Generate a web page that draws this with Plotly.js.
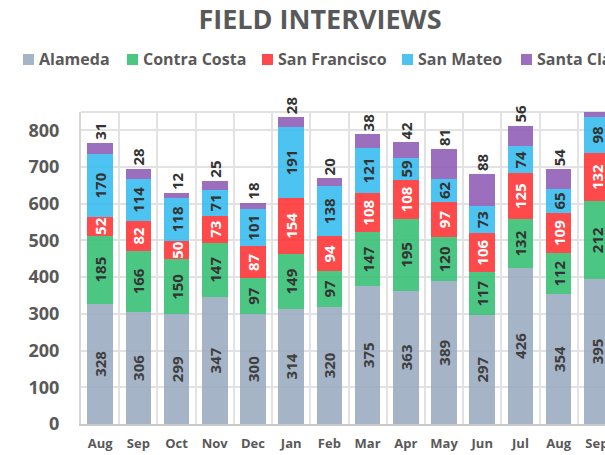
<!DOCTYPE html>
<html>
<head>
<meta charset="utf-8">
<script src="https://cdn.plot.ly/plotly-3.0.1.min.js"></script>
<style>
  html, body { margin: 0; padding: 0; overflow: hidden; background: #fff; }
  #chart { width: 640px; height: 455px; }
</style>
</head>
<body>
<div id="chart"></div>
<script>
// ---- data ----
const months = ['Aug','Sep','Oct','Nov','Dec','Jan','Feb','Mar','Apr','May','Jun','Jul','Aug','Sep'];
const alameda      = [328,306,299,347,300,314,320,375,363,389,297,426,354,395];
const contraCosta  = [185,166,150,147, 97,149, 97,147,195,120,117,132,112,212];
const sanFrancisco = [ 52, 82, 50, 73, 87,154, 94,108,108, 97,106,125,109,132];
const sanMateo     = [170,114,118, 71,101,191,138,121, 59, 62, 73, 74, 65, 98];
const santaClara   = [ 31, 28, 12, 25, 18, 28, 20, 38, 42, 81, 88, 56, 54, 30];
const seriesNames  = ['Alameda','Contra Costa','San Francisco','San Mateo','Santa Clara'];
const yTicks       = [0,100,200,300,400,500,600,700,800];

// ---- styling ----
const W = 640, H = 455;
const M = {l: 81, r: 24, t: 112, b: 31};
const YMAX = 850;
const FONT = '"Open Sans", "Noto Sans", sans-serif';
const GREY = '#595959';
const fills = ['rgba(156,172,194,0.9)','rgba(56,193,117,0.9)','rgba(254,54,54,0.9)','rgba(57,189,238,0.9)','rgba(145,95,183,0.9)'];
const legendFills = ['#a6b4c8','#4cc783','#fe4a4a','#4dc4f0','#9c6fbe'];
const labelColors = ['#3f3f3f','#333333','#ffffff','#333333','#333333'];

const idx = months.map((m, i) => i);
const totals = idx.map(i => alameda[i] + contraCosta[i] + sanFrancisco[i] + sanMateo[i] + santaClara[i]);
const allSeries = [alameda, contraCosta, sanFrancisco, sanMateo, santaClara];

const traces = allSeries.map((vals, k) => {
  const top = k === allSeries.length - 1;
  return {
    type: 'bar',
    name: seriesNames[k],
    x: idx,
    y: vals,
    marker: {color: fills[k], line: {width: 0}},
    text: vals.map((v, i) => (top && totals[i] > YMAX) ? '' : String(v)),
    texttemplate: '%{text}',
    textposition: top ? 'outside' : 'inside',
    insidetextanchor: 'middle',
    textangle: -90,
    constraintext: 'none',
    cliponaxis: !top,
    textfont: {family: FONT, size: 15, weight: 700, color: labelColors[k]},
    insidetextfont: {family: FONT, size: 15, weight: 700, color: labelColors[k]},
    outsidetextfont: {family: FONT, size: 15, weight: 700, color: labelColors[k]},
    hoverinfo: 'skip',
    showlegend: false
  };
});

// legend built as text + colour keys
const plotW = W - M.l - M.r, plotH = H - M.t - M.b;
const px2x = px => (px - M.l) / plotW;
const py2y = py => (H - M.b - py) / plotH;
const legendX = [23, 127, 262, 402, 521];
const legendY = 59.5;
const annotations = seriesNames.map((n, k) => ({
  xref: 'paper', yref: 'paper',
  x: px2x(legendX[k] + 14), y: py2y(legendY),
  xanchor: 'left', yanchor: 'middle',
  text: n, showarrow: false,
  font: {family: FONT, size: 16, weight: 700, color: GREY}
}));
const shapes = seriesNames.map((n, k) => ({
  type: 'rect', xref: 'paper', yref: 'paper',
  x0: px2x(legendX[k]), x1: px2x(legendX[k] + 11),
  y0: py2y(legendY + 5.5), y1: py2y(legendY - 5.5),
  fillcolor: legendFills[k], line: {width: 0}
}));
shapes.push({type: 'line', xref: 'paper', yref: 'paper', x0: 0, x1: 1, y0: 1, y1: 1,
  line: {color: '#e2e2e2', width: 2}, layer: 'below'});

const layout = {
  width: W, height: H,
  margin: M,
  paper_bgcolor: '#ffffff', plot_bgcolor: '#ffffff',
  barmode: 'stack',
  bargap: 0.33,
  hovermode: false,
  title: {
    text: 'FIELD INTERVIEWS',
    xref: 'container', yref: 'container',
    x: 320 / W, y: 1 - 20 / H, xanchor: 'center', yanchor: 'middle',
    font: {family: FONT, size: 27, weight: 700, color: GREY}
  },
  xaxis: {
    range: [-0.5, months.length - 0.5],
    tickmode: 'array', tickvals: idx, ticktext: months,
    showgrid: false, zeroline: false,
    showline: true, linecolor: '#c8c8c8', linewidth: 2,
    ticks: '',
    ticklabelstandoff: 6,
    tickfont: {family: FONT, size: 13, weight: 700, color: GREY},
    minor: {tick0: -0.5, dtick: 1, showgrid: true, gridcolor: '#e2e2e2', gridwidth: 2, ticks: ''}
  },
  yaxis: {
    range: [0, YMAX],
    tickmode: 'array', tickvals: yTicks,
    showgrid: true, gridcolor: '#e2e2e2', gridwidth: 2,
    zeroline: false,
    showline: true, linecolor: '#d6d6d6', linewidth: 2,
    ticks: '',
    ticklabelstandoff: 16,
    tickfont: {family: FONT, size: 18, weight: 700, color: GREY}
  },
  annotations: annotations,
  shapes: shapes
};

Plotly.newPlot('chart', traces, layout, {displayModeBar: false, staticPlot: true});
</script>
</body>
</html>
